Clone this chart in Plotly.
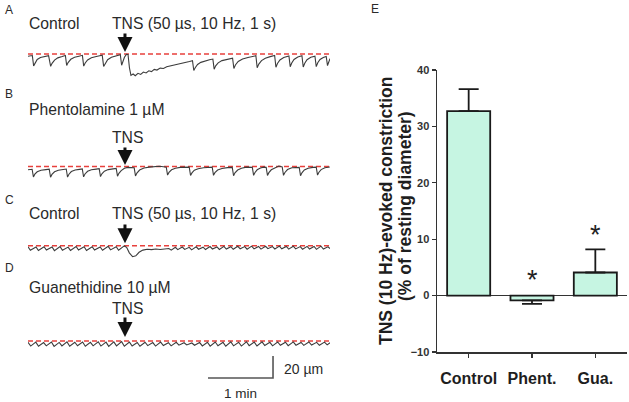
import plotly.graph_objects as go

W, H = 629, 402
FONT = "Liberation Sans, Arial, Helvetica, sans-serif"

# ---------------- data: panel E (bar chart) ----------------
groups = ["Control", "Phent.", "Gua."]
mean_constriction = [32.7, -0.85, 4.1]
sem_up = [3.9, 0.0, 4.1]
sem_down = [0.0, 0.6, 0.0]
significance = ["", "*", "*"]
y_ticks = [-10, 0, 10, 20, 30, 40]
y_title_lines = ["TNS (10 Hz)-evoked constriction", "(% of resting diameter)"]

# ---------------- data: traces A-D (time s, diameter change um) ----------------
tns_time = 89.5
trace_end = 278.7
scale_time_s = 60
scale_um = 20

A_t = [0.0, 2.0, 4.0, 5.2, 6.5, 8.5, 11.5, 15.5, 19.0, 20.9, 22.2, 24.5, 27.5, 31.5, 34.5, 35.7, 37.0,
       39.5, 43.0, 47.0, 50.2, 51.4, 52.8, 55.0, 58.5, 63.0, 68.5, 69.8, 71.2, 73.5, 77.0, 81.5, 85.2,
       86.4, 87.6, 89.0, 90.8, 92.3, 93.6, 95.0, 97.0, 99.0, 101.5, 104.0, 106.5, 109.0, 111.5, 114.0,
       116.5, 119.0, 122.0, 125.0, 128.0, 131.0, 134.0, 137.0, 140.0, 143.0, 146.0, 149.0, 151.8, 153.0,
       154.3, 156.5, 159.5, 163.5, 167.5, 170.6, 171.8, 173.2, 175.5, 179.0, 184.0, 188.8, 190.0, 191.4,
       194.0, 198.0, 203.0, 207.5, 210.3, 211.5, 213.0, 215.5, 219.0, 223.5, 227.6, 228.8, 230.2, 232.5,
       236.0, 240.8, 242.0, 243.4, 245.5, 249.0, 252.8, 254.0, 255.4, 257.5, 261.0, 264.8, 266.0, 267.4,
       269.5, 272.5, 275.2, 276.4, 277.6, 278.7]
A_d = [-2.0, -1.6, -1.4, -10.8, -8.0, -5.0, -3.2, -2.2, -1.5, -11.2, -8.5, -5.5, -3.5, -2.3, -1.3, -10.5,
       -7.8, -4.8, -3.0, -2.0, -1.2, -11.0, -8.2, -5.4, -3.4, -2.2, -1.0, -11.3, -8.4, -5.2, -3.0, -1.8,
       -0.6, -10.2, -7.0, -3.0, -0.3, -0.5, -12.5, -19.5, -18.2, -19.8, -17.6, -18.6, -16.4, -17.2, -15.3,
       -16.0, -14.0, -14.6, -12.8, -13.2, -11.6, -11.0, -10.2, -9.6, -8.6, -8.2, -7.4, -6.8, -6.0, -15.0,
       -12.5, -9.5, -7.6, -6.2, -5.2, -4.6, -13.8, -10.8, -8.0, -6.0, -4.6, -3.8, -13.2, -10.0, -6.8,
       -4.6, -3.2, -2.4, -1.6, -12.5, -9.2, -6.0, -3.8, -2.4, -1.4, -12.0, -8.6, -5.4, -3.2, -1.8, -11.6,
       -8.2, -5.0, -2.8, -1.6, -11.8, -8.4, -5.2, -3.0, -2.0, -11.5, -8.0, -5.0, -3.2, -2.2, -10.5, -7.0,
       -4.2]

B_t = [0.0, 3.8, 5.0, 6.3, 8.5, 12.0, 16.5, 19.6, 20.8, 22.1, 24.5, 28.0, 32.5, 35.3, 36.5, 37.8, 40.0,
       43.5, 47.5, 50.1, 51.3, 52.6, 55.0, 58.5, 63.0, 65.7, 66.9, 68.2, 70.5, 74.0, 78.5, 81.4, 82.6,
       83.9, 86.0, 89.0, 92.0, 95.0, 98.0, 99.2, 100.5, 103.0, 107.0, 112.0, 117.0, 121.0, 125.0, 127.6,
       128.8, 130.1, 132.5, 136.0, 140.5, 145.0, 148.8, 150.0, 151.3, 153.5, 157.0, 162.0, 166.5, 170.0,
       171.2, 172.5, 175.0, 179.0, 184.0, 188.5, 189.7, 191.0, 193.5, 197.0, 201.5, 204.5, 207.0, 208.2,
       209.5, 211.5, 214.5, 217.5, 219.8, 221.0, 222.3, 224.5, 228.0, 231.5, 234.6, 235.8, 237.1, 239.5,
       243.5, 247.5, 250.3, 251.5, 252.8, 255.0, 258.5, 263.0, 266.0, 267.2, 268.5, 270.5, 274.0, 278.5]
B_d = [-3.0, -2.5, -9.5, -7.0, -4.8, -3.4, -2.8, -2.4, -9.8, -7.2, -4.8, -3.4, -2.7, -2.3, -9.6, -7.0,
       -4.6, -3.2, -2.6, -2.2, -9.4, -6.8, -4.4, -3.0, -2.4, -2.0, -9.2, -6.6, -4.2, -2.8, -2.2, -1.8,
       -8.8, -6.2, -3.8, -1.6, -0.8, -0.9, -1.2, -8.6, -6.0, -3.2, -1.4, -0.6, -0.2, 0.2, -0.2, -0.6,
       -7.8, -5.4, -3.0, -1.6, -0.8, -0.4, -0.6, -8.2, -5.8, -3.4, -2.0, -1.2, -0.8, -0.6, -8.0, -5.6,
       -3.2, -1.8, -1.0, -0.8, -8.4, -5.8, -3.2, -1.6, -0.6, -0.4, -0.8, -8.0, -5.4, -3.0, -1.4, -0.6,
       -0.8, -8.2, -5.6, -3.0, -1.2, 0.4, -0.4, -8.0, -5.4, -2.8, -1.2, -0.6, -0.8, -8.4, -5.8, -3.2,
       -1.6, -0.8, -0.6, -7.8, -5.2, -2.8, -1.2, -0.4]

C_t = [0.0, 2.2, 7.4, 9.6, 14.8, 17.0, 22.2, 24.4, 29.6, 31.8, 37.0, 39.2, 44.4, 46.6, 51.8, 54.0, 59.2,
       61.4, 66.6, 68.8, 74.0, 76.2, 81.4, 83.6, 88.8, 91.0, 93.5, 96.5, 99.5, 102.5, 106.0, 110.0, 114.0,
       118.0, 122.0, 126.0, 130.0, 132.2, 136.0, 138.2, 142.4, 144.6, 148.8, 151.0, 155.2, 157.4, 161.6,
       163.8, 168.0, 170.2, 174.4, 176.6, 180.8, 183.0, 187.2, 189.4, 193.6, 195.8, 200.0, 202.2, 206.4,
       208.6, 212.8, 215.0, 219.2, 221.4, 225.6, 227.8, 232.0, 234.2, 238.4, 240.6, 244.8, 247.0, 251.2,
       253.4, 257.6, 259.8, 264.0, 266.2, 270.4, 272.6, 276.8, 278.7]
C_d = [-1.0, -4.2, -1.2, -4.4, -0.9, -4.0, -1.1, -4.5, -0.8, -4.1, -1.3, -4.3, -0.7, -3.9, -1.0, -4.4,
       -0.9, -4.0, -1.2, -4.2, -0.6, -3.8, -1.0, -4.1, -0.2, -1.5, -6.5, -10.0, -9.2, -6.0, -4.0, -3.2,
       -3.6, -3.0, -3.4, -2.8, -2.6, -4.0, -1.4, -3.6, -1.2, -3.4, -1.5, -3.8, -1.0, -3.2, -1.3, -3.5,
       -0.8, -3.0, -1.1, -3.4, -0.6, -3.0, -0.9, -3.3, -0.5, -2.8, -0.8, -3.2, -0.4, -2.9, -0.7, -3.1,
       -0.5, -2.7, -0.8, -3.0, -0.4, -2.8, -0.7, -3.1, -0.5, -2.9, -0.8, -3.2, -0.6, -3.0, -0.7, -3.3,
       -0.4, -3.0, -1.0, -2.6]

D_t = [0.0, 2.5, 7.2, 9.7, 14.4, 16.9, 21.6, 24.1, 28.8, 31.3, 36.0, 38.5, 43.2, 45.7, 50.4, 52.9, 57.6,
       60.1, 64.8, 67.3, 72.0, 74.5, 79.2, 81.7, 86.4, 88.9, 93.6, 96.1, 100.8, 103.3, 108.0, 110.5,
       115.2, 117.7, 122.4, 124.9, 129.6, 132.1, 136.8, 139.3, 144.0, 146.5, 151.2, 153.7, 158.4, 160.9,
       165.6, 168.1, 172.8, 175.3, 180.0, 182.5, 187.2, 189.7, 194.4, 196.9, 201.6, 204.1, 208.8, 211.3,
       216.0, 218.5, 223.2, 225.7, 230.4, 232.9, 237.6, 240.1, 244.8, 247.3, 252.0, 254.5, 259.2, 261.7,
       266.4, 268.9, 273.6, 276.1, 278.7]
D_d = [-1.2, -4.6, -1.0, -4.8, -1.4, -4.4, -0.9, -4.9, -1.3, -4.5, -0.8, -4.7, -1.1, -4.3, -0.9, -4.8,
       -1.2, -4.4, -0.7, -4.6, -1.0, -4.9, -0.8, -4.4, -0.6, -4.7, -1.0, -4.5, -1.3, -4.8, -1.1, -4.2,
       -1.4, -4.6, -1.0, -4.1, -1.5, -4.4, -1.2, -3.8, -1.6, -3.6, -1.8, -3.9, -1.4, -4.5, -1.1, -4.7,
       -0.9, -4.3, -1.2, -4.8, -0.8, -4.4, -1.1, -4.6, -0.7, -4.2, -1.0, -4.5, -0.8, -4.1, -1.2, -4.4,
       -0.9, -3.9, -1.1, -4.2, -0.8, -3.8, -1.3, -4.0, -0.9, -3.7, -1.2, -3.9, -1.0, -3.5, -1.6]

# ---------------- helpers (layout only) ----------------
def px_x(x):
    return x / W


def px_y(y):
    return 1 - y / H


TRACE_X0, TRACE_X1 = 28, 330
S_PER_PX = trace_end / (TRACE_X1 - TRACE_X0)
UM_PER_PX = 20 / 22.0

fig = go.Figure()

# ---------------- panel E ----------------
fig.add_trace(go.Bar(
    x=groups, y=mean_constriction, xaxis="x", yaxis="y", width=0.68,
    marker=dict(color="#c6f5e2", line=dict(color="#1a1a1a", width=1.8)),
    error_y=dict(type="data", symmetric=False, array=sem_up, arrayminus=sem_down,
                 color="#1a1a1a", thickness=1.8, width=10),
    hoverinfo="skip", showlegend=False,
))

# ---------------- panels A-D ----------------
panels = [
    # (axis suffix, t, d, red line px y, y range)
    ("2", A_t, A_d, 54.0, [-25, 5]),
    ("3", B_t, B_d, 166.5, [-25, 5]),
    ("4", C_t, C_d, 245.7, [-25, 5]),
    ("5", D_t, D_d, 341.0, [-40, 5]),
]

layout_axes = {}
for suf, t, d, red_px, yr in panels:
    top_px = red_px - yr[1] / UM_PER_PX
    bot_px = red_px - yr[0] / UM_PER_PX
    layout_axes["xaxis" + suf] = dict(domain=[px_x(TRACE_X0), px_x(TRACE_X1)], range=[0, trace_end],
                                      visible=False, anchor="y" + suf, fixedrange=True)
    layout_axes["yaxis" + suf] = dict(domain=[px_y(bot_px), px_y(top_px)], range=yr,
                                      visible=False, anchor="x" + suf, fixedrange=True)
    fig.add_trace(go.Scatter(x=[0, trace_end], y=[0, 0], mode="lines", xaxis="x" + suf, yaxis="y" + suf,
                             line=dict(color="#e8403c", width=1.6, dash="5px,3px"),
                             hoverinfo="skip", showlegend=False))
    fig.add_trace(go.Scatter(x=t, y=d, mode="lines", xaxis="x" + suf, yaxis="y" + suf,
                             line=dict(color="#3c3c3c", width=1.1),
                             hoverinfo="skip", showlegend=False))

# scale bar (in panel D axes)
bar_t0 = (208 - TRACE_X0) * S_PER_PX
bar_d0 = -(378 - 341.0) * UM_PER_PX
fig.add_trace(go.Scatter(
    x=[bar_t0, bar_t0 + scale_time_s, bar_t0 + scale_time_s],
    y=[bar_d0, bar_d0, bar_d0 + scale_um],
    mode="lines", xaxis="x5", yaxis="y5", line=dict(color="#555555", width=1.6),
    hoverinfo="skip", showlegend=False, cliponaxis=False,
))

annotations = []


def txt(x, y, s, size=15.7, anchor="left", bold=False, color="#2a2a2a", angle=0):
    annotations.append(dict(
        x=px_x(x), y=px_y(y), xref="paper", yref="paper", text=("<b>%s</b>" % s) if bold else s,
        showarrow=False, xanchor=anchor, yanchor="middle", textangle=angle,
        font=dict(family=FONT, size=size, color=color)))


# panel letters
txt(3, 10, "A", size=12)
txt(3, 94, "B", size=12)
txt(3, 200, "C", size=12)
txt(3, 268, "D", size=12)
txt(369, 9, "E", size=12)

txt(27, 23.5, "Control")
txt(110, 23.5, "TNS (50 µs, 10 Hz, 1 s)")
txt(27, 110, "Phentolamine 1 µM")
txt(110, 137, "TNS")
txt(27, 213, "Control")
txt(110, 213, "TNS (50 µs, 10 Hz, 1 s)")
txt(27, 287, "Guanethidine 10 µM")
txt(110, 308, "TNS")
txt(282, 369, "20 µm", size=14)
txt(240, 393.5, "1 min", size=13.5, anchor="center")

# y-axis title of panel E (two rotated lines)
txt(386, 211, y_title_lines[0], size=17.5, anchor="center", bold=True, color="#1e1e1e", angle=-90)
txt(405, 206, y_title_lines[1], size=17.5, anchor="center", bold=True, color="#1e1e1e", angle=-90)

# TNS arrows
for suf, tail, standoff in [("2", -22, 2), ("3", -20.5, 1.5), ("4", -22.7, 2.5), ("5", -25, 4)]:
    annotations.append(dict(
        x=tns_time, y=0, xref="x" + suf, yref="y" + suf, text="", showarrow=True,
        ax=0, ay=tail, axref="pixel", ayref="pixel", arrowhead=2, arrowsize=1.0,
        arrowwidth=3, arrowcolor="#111111", standoff=standoff))

# significance asterisks
sig_pos = {"Phent.": 2.7, "Gua.": 10.7}
for g, s in zip(groups, significance):
    if s:
        annotations.append(dict(x=g, y=sig_pos[g], xref="x", yref="y", text=s, showarrow=False,
                                font=dict(family=FONT, size=27, color="#222222")))

fig.update_layout(
    width=W, height=H, autosize=False,
    margin=dict(l=0, r=0, t=0, b=0, pad=0, autoexpand=False),
    paper_bgcolor="white", plot_bgcolor="white",
    showlegend=False,
    font=dict(family=FONT, color="#222222"),
    xaxis=dict(domain=[px_x(437), px_x(627)], range=[-0.5, 2.5], type="category",
               anchor="y", showline=True, linecolor="#333333", linewidth=1.5,
               ticks="outside", ticklen=4, tickwidth=1.2, tickcolor="#333333",
               tickfont=dict(family=FONT, size=16, color="#1e1e1e", weight="bold"),
               ticklabelstandoff=7, showgrid=False, zeroline=False, fixedrange=True,
               automargin=False),
    yaxis=dict(domain=[px_y(352), px_y(70)], range=[-10, 40], tickvals=y_ticks,
               anchor="x", showline=True, linecolor="#333333", linewidth=1.5,
               ticks="outside", ticklen=4, tickwidth=1.2, tickcolor="#333333",
               tickfont=dict(family=FONT, size=11, color="#333333", weight="bold"),
               showgrid=False, zeroline=True, zerolinecolor="#333333", zerolinewidth=1.5,
               fixedrange=True, automargin=False),
    annotations=annotations,
    **layout_axes,
)

fig.write_html("out.html", config={"displayModeBar": False, "staticPlot": True},
               post_script="document.body.style.margin='0px';")
